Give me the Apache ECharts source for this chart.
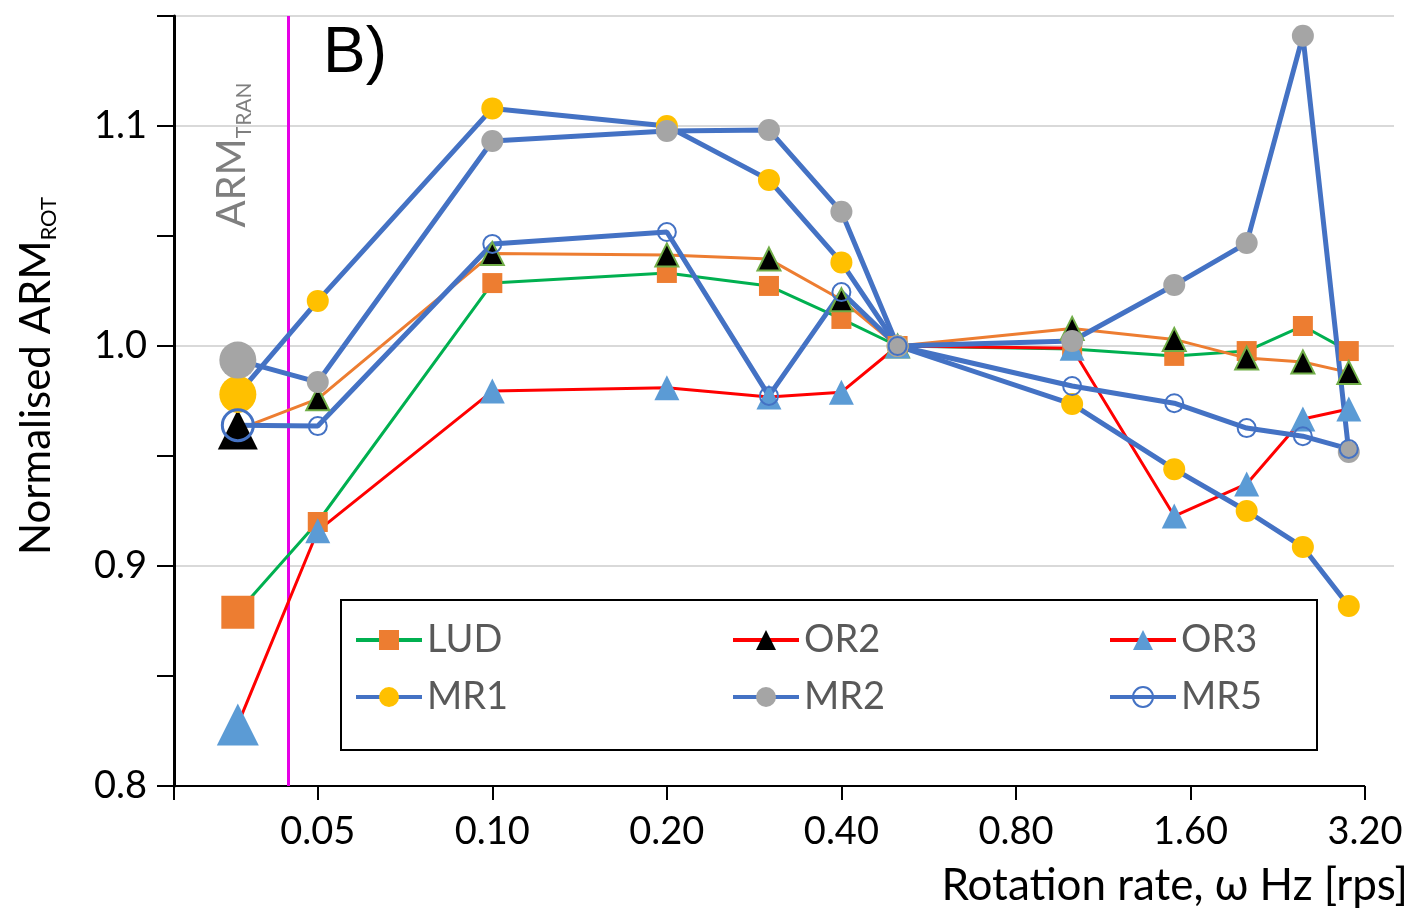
<!DOCTYPE html>
<html>
<head>
<meta charset="utf-8">
<script src="https://cdn.jsdelivr.net/npm/echarts@6/dist/echarts.min.js"></script>
<style>
  html, body { margin: 0; padding: 0; background: #fff; }
  #chart { width: 1416px; height: 918px; }
</style>
</head>
<body>
<div id="chart"></div>
<script>
// rotation rates [rps], first column is the ARM_TRAN reference
var rates = [0.0364, 0.05, 0.1, 0.2, 0.3, 0.4, 0.5, 1.0, 1.5, 2.0, 2.5, 3.0]
var xTicks = [0.05, 0.1, 0.2, 0.4, 0.8, 1.6, 3.2]
var yLabels = [0.8, 0.9, 1.0, 1.1]
var tranRate = 0.0445

var lud = [0.879, 0.920, 1.0286, 1.0332, 1.0273, 1.0123, 1.0, 0.9986, 0.9955, 0.9977, 1.0091, 0.9977]
var or2 = [0.962, 0.976, 1.042, 1.0414, 1.0395, 1.021, 1.0, 1.008, 1.003, 0.9945, 0.9927, 0.988]
var or3 = [0.828, 0.916, 0.9795, 0.981, 0.9768, 0.979, 1.0, 0.999, 0.9227, 0.9373, 0.9668, 0.9714]
var mr1 = [0.978, 1.0205, 1.108, 1.1, 1.0755, 1.038, 1.0, 0.9736, 0.944, 0.925, 0.9086, 0.8818]
var mr2 = [0.9936, 0.9836, 1.0932, 1.0977, 1.0982, 1.061, 1.0, 1.0023, 1.0277, 1.0468, 1.141, 0.9518]
var mr5 = [0.964, 0.9636, 1.0464, 1.0518, 0.9773, 1.0245, 1.0, 0.9818, 0.974, 0.9627, 0.959, 0.9532]

var xMin = Math.log2(0.02825)
var xMax = Math.log2(3.59)
var FONT = 'Lato'
var GRID = '#d9d9d9'
var NONE = 'rgba(0,0,0,0)'

function pts (vals, big) {
  return vals.map(function (v, i) {
    var p = { value: [Math.log2(rates[i]), v] }
    if (i === 0) {
      // ARM_TRAN markers are drawn larger and without outline
      p.symbolSize = big
      p.itemStyle = { borderWidth: 0 }
    }
    return p
  })
}

function line (name, vals, symbol, size, big, itemStyle, lineColor, lineWidth) {
  return {
    name: name,
    type: 'line',
    data: pts(vals, big),
    symbol: symbol,
    symbolSize: size,
    showAllSymbol: true,
    itemStyle: itemStyle,
    lineStyle: { color: lineColor, width: lineWidth },
    emphasis: { disabled: true },
    clip: false
  }
}

var series = [
  line('LUD', lud, 'rect', 20, 33, { color: '#ed7d31' }, '#00b050', 3),
  line('OR2', or2, 'triangle', 23, 40, { color: '#000', borderColor: '#70ad47', borderWidth: 2 }, '#ed7d31', 3),
  line('OR3', or3, 'triangle', 25, 42, { color: '#5b9bd5' }, '#ff0000', 3),
  line('MR1', mr1, 'circle', 22, 37, { color: '#ffc000' }, '#4472c4', 5),
  line('MR2', mr2, 'circle', 22, 37, { color: '#a5a5a5' }, '#4472c4', 5),
  line('MR5', mr5, 'circle', 18, 31, { color: 'rgba(255,255,255,0)', borderColor: '#4472c4', borderWidth: 2 }, '#4472c4', 5)
]
series[5].data[0].itemStyle = { borderWidth: 3 }

// axis line (ends at 3.20) and the ARM_TRAN divider
series[0].markLine = {
  silent: true,
  symbol: 'none',
  z: 1,
  label: { show: false },
  data: [
    [{ coord: [xMin, 0.8], lineStyle: { color: '#000', width: 2, type: 'solid' } }, { coord: [Math.log2(3.2), 0.8] }],
    [{ coord: [Math.log2(tranRate), 0.8], lineStyle: { color: '#e600e6', width: 3, type: 'solid' } }, { coord: [Math.log2(tranRate), 1.15] }]
  ]
}

var legendItems = [
  { name: 'LUD', textStyle: { width: 287 }, itemStyle: { color: '#ed7d31', borderWidth: 0 }, lineStyle: { color: '#00b050', width: 4 } },
  { name: 'OR2', textStyle: { width: 287 }, itemStyle: { color: '#000', borderWidth: 0 }, lineStyle: { color: '#ff0000', width: 4 } },
  { name: 'OR3', textStyle: { width: 120 }, itemStyle: { color: '#5b9bd5', borderWidth: 0 }, lineStyle: { color: '#ff0000', width: 4 } },
  { name: 'MR1', textStyle: { width: 287 }, itemStyle: { color: '#ffc000', borderWidth: 0 }, lineStyle: { color: '#4472c4', width: 4 } },
  { name: 'MR2', textStyle: { width: 287 }, itemStyle: { color: '#a5a5a5', borderWidth: 0 }, lineStyle: { color: '#4472c4', width: 4 } },
  { name: 'MR5', textStyle: { width: 120 }, itemStyle: { color: 'rgba(255,255,255,0)', borderColor: '#4472c4', borderWidth: 2 }, lineStyle: { color: '#4472c4', width: 4 } }
]

var chart = echarts.init(document.getElementById('chart'))
chart.setOption({
  animation: false,
  grid: { left: 174, right: 22, top: 16, bottom: 132 },
  title: [
    { text: 'B)', left: 323, top: 22, padding: 0,
      textStyle: { fontFamily: 'Liberation Sans', fontSize: 64, fontWeight: 'normal', color: '#000' } },
    { text: 'Rotation rate, \u03c9 Hz [rps]', right: 8, top: 864, padding: 0,
      textStyle: { fontFamily: FONT, fontSize: 44, fontWeight: 'normal', color: '#000' } }
  ],
  legend: {
    left: 341,
    top: 600,
    width: 1100,
    itemWidth: 66,
    itemHeight: 25,
    itemGap: 17,
    padding: [20, 16, 33, 13],
    borderColor: '#000',
    borderWidth: 2,
    backgroundColor: '#fff',
    selectedMode: false,
    textStyle: { fontFamily: FONT, fontSize: 38, color: '#595959', lineHeight: 40 },
    data: legendItems
  },
  xAxis: {
    type: 'value',
    min: xMin,
    max: xMax,
    axisLine: { show: false, onZero: false },
    axisTick: {
      show: true, length: 14,
      customValues: [xMin].concat(xTicks.map(Math.log2)),
      lineStyle: { color: '#000', width: 2 }
    },
    axisLabel: {
      customValues: xTicks.map(Math.log2),
      formatter: function (v) { return Math.pow(2, v).toFixed(2) },
      fontFamily: FONT, fontSize: 38, color: '#000', margin: 27
    },
    splitLine: { show: false }
  },
  yAxis: {
    type: 'value',
    min: 0.8,
    max: 1.15,
    interval: 0.05,
    axisLine: { show: true, onZero: false, lineStyle: { color: '#000', width: 3 } },
    axisTick: { show: true, length: 17, lineStyle: { color: '#000', width: 2 } },
    axisLabel: {
      customValues: yLabels,
      formatter: function (v) { return v.toFixed(1) },
      fontFamily: FONT, fontSize: 38, color: '#000', margin: 27
    },
    // gridlines only at 0.9, 1.0, 1.1 and the top edge 1.15
    splitLine: {
      show: true,
      lineStyle: { color: [NONE, NONE, GRID, NONE, GRID, NONE, GRID, GRID], width: 2 }
    }
  },
  graphic: [
    { type: 'text', x: 36, y: 376, rotation: Math.PI / 2,
      style: {
        text: '{a|Normalised ARM}{b|ROT}', fill: '#000', align: 'center', verticalAlign: 'middle',
        rich: {
          a: { fontFamily: FONT, fontSize: 42, lineHeight: 48, verticalAlign: 'middle' },
          b: { fontFamily: FONT, fontSize: 22, lineHeight: 20, verticalAlign: 'bottom' }
        }
      } },
    { type: 'text', x: 232, y: 155, rotation: Math.PI / 2,
      style: {
        text: '{a|ARM}{b|TRAN}', fill: '#7f7f7f', align: 'center', verticalAlign: 'middle',
        rich: {
          a: { fontFamily: FONT, fontSize: 40, lineHeight: 46, verticalAlign: 'middle' },
          b: { fontFamily: FONT, fontSize: 21, lineHeight: 16, verticalAlign: 'bottom' }
        }
      } }
  ],
  series: series
})
</script>
</body>
</html>
